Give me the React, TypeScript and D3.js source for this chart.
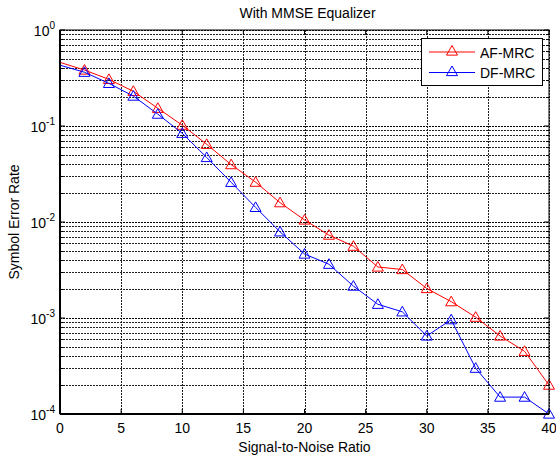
import React from "react";
import * as d3 from "d3";

const snrAll = [0, 2, 4, 6, 8, 10, 12, 14, 16, 18, 20, 22, 24, 26, 28, 30, 32, 34, 36, 38, 40];
const afMrc = [0.46, 0.383, 0.306, 0.23, 0.153, 0.102, 0.0645, 0.0396, 0.026, 0.0159, 0.0105, 0.0073, 0.0056, 0.0034, 0.0032, 0.00203, 0.00148, 0.00102, 0.00065, 0.00045, 0.0002];
const dfMrc = [0.43, 0.363, 0.278, 0.205, 0.133, 0.084, 0.047, 0.0259, 0.0142, 0.0079, 0.00464, 0.00363, 0.00215, 0.00139, 0.00116, 0.00065, 0.00096, 0.0003, 0.00015, 0.00015, 0.0001];
const xTicks = [0, 5, 10, 15, 20, 25, 30, 35, 40];
const yDecades = [0, -1, -2, -3, -4];
const seriesNames = ["AF-MRC", "DF-MRC"];
const seriesColors = ["#ff0000", "#0000ff"];

const W = 556, H = 459;
const L = 60, R = 549, T = 30, B = 414;
const FONT = "Arial, 'Liberation Sans', sans-serif";
const FS = 14;

function Tri({ cx, cy, color }: { cx: number; cy: number; color: string }) {
  const s = 5.5;
  const pts = `${cx},${cy - s} ${cx - s},${cy + s * 0.75} ${cx + s},${cy + s * 0.75}`;
  return <polygon points={pts} fill="none" stroke={color} strokeWidth={1} />;
}

export default function App() {
  const x = d3.scaleLinear().domain([0, 40]).range([L, R]);
  const y = d3.scaleLog().domain([1e-4, 1]).range([B, T]);
  const minor: number[] = [];
  for (let e = -4; e < 0; e++) for (let m = 2; m <= 9; m++) minor.push(m * Math.pow(10, e));
  const line = d3
    .line<number>()
    .x((_, i) => x(snrAll[i]))
    .y((d) => y(d));
  const data = [afMrc, dfMrc];
  return (
    <svg width={W} height={H} style={{ position: "absolute", left: 0, top: 0, background: "#fff" }}>
      <rect x={0} y={0} width={W} height={H} fill="#fff" />
      {/* grid */}
      {minor.map((v, i) => (
        <line key={"mg" + i} x1={L} x2={R} y1={Math.round(y(v)) + 0.5} y2={Math.round(y(v)) + 0.5} stroke="#222" strokeDasharray="2,1" strokeWidth={1} />
      ))}
      {yDecades.map((e) => (
        <line key={"yg" + e} x1={L} x2={R} y1={Math.round(y(Math.pow(10, e))) + 0.5} y2={Math.round(y(Math.pow(10, e))) + 0.5} stroke="#000" strokeDasharray="2,1" />
      ))}
      {xTicks.map((t) => (
        <line key={"xg" + t} x1={Math.round(x(t)) + 0.5} x2={Math.round(x(t)) + 0.5} y1={T} y2={B} stroke="#222" strokeDasharray="2,1" />
      ))}
      {/* minor ticks */}
      {minor.map((v, i) => (
        <g key={"mt" + i}>
          <line x1={L} x2={L + 3} y1={Math.round(y(v)) + 0.5} y2={Math.round(y(v)) + 0.5} stroke="#000" />
          <line x1={R} x2={R - 3} y1={Math.round(y(v)) + 0.5} y2={Math.round(y(v)) + 0.5} stroke="#000" />
        </g>
      ))}
      {yDecades.map((e) => (
        <g key={"yt" + e}>
          <line x1={L} x2={L + 5} y1={y(Math.pow(10, e))} y2={y(Math.pow(10, e))} stroke="#000" />
          <line x1={R} x2={R - 5} y1={y(Math.pow(10, e))} y2={y(Math.pow(10, e))} stroke="#000" />
        </g>
      ))}
      {xTicks.map((t) => (
        <g key={"xt" + t}>
          <line x1={x(t)} x2={x(t)} y1={B} y2={B - 5} stroke="#000" />
          <line x1={x(t)} x2={x(t)} y1={T} y2={T + 5} stroke="#000" />
        </g>
      ))}
      {/* series */}
      {data.map((d, si) => (
        <g key={"s" + si}>
          <path d={line(d) || ""} fill="none" stroke={seriesColors[si]} strokeWidth={1} />
          {d.map((v, i) =>
            i === 0 ? null : <Tri key={i} cx={x(snrAll[i])} cy={y(v)} color={seriesColors[si]} />
          )}
        </g>
      ))}
      {/* frame */}
      <rect x={L} y={T} width={R - L} height={B - T} fill="none" stroke="#000" strokeWidth={1} />
      <line x1={L} x2={L} y1={T} y2={B} stroke="#000" strokeWidth={2} />
      <line x1={L} x2={R} y1={B} y2={B} stroke="#000" strokeWidth={2} />
      {/* tick labels */}
      {xTicks.map((t) => (
        <text key={"xl" + t} x={x(t)} y={B + 19} textAnchor="middle" fontFamily={FONT} fontSize={FS}>
          {t}
        </text>
      ))}
      {yDecades.map((e) => (
        <text key={"yl" + e} x={L - 5} y={y(Math.pow(10, e)) + 5.5} textAnchor="end" fontFamily={FONT} fontSize={FS}>
          10
          <tspan dy={-6.5} fontSize={10}>
            {e}
          </tspan>
        </text>
      ))}
      {/* title & axis labels */}
      <text x={(L + R) / 2 + 3} y={18} textAnchor="middle" fontFamily={FONT} fontSize={FS}>
        With MMSE Equalizer
      </text>
      <text x={(L + R) / 2} y={451.5} textAnchor="middle" fontFamily={FONT} fontSize={FS}>
        Signal-to-Noise Ratio
      </text>
      <text
        transform={`translate(18.5, ${(T + B) / 2}) rotate(-90)`}
        textAnchor="middle"
        fontFamily={FONT}
        fontSize={FS}
      >
        Symbol Error Rate
      </text>
      {/* legend */}
      <g>
        <rect x={421.5} y={38.5} width={121} height={47} fill="#fff" stroke="#000" strokeWidth={1} />
        {seriesNames.map((n, i) => (
          <g key={n}>
            <line x1={429} x2={475} y1={52 + i * 20.5} y2={52 + i * 20.5} stroke={seriesColors[i]} />
            <Tri cx={452} cy={51 + i * 20.5} color={seriesColors[i]} />
            <text x={480} y={58 + i * 20} fontFamily={FONT} fontSize={FS}>
              {n}
            </text>
          </g>
        ))}
      </g>
    </svg>
  );
}
